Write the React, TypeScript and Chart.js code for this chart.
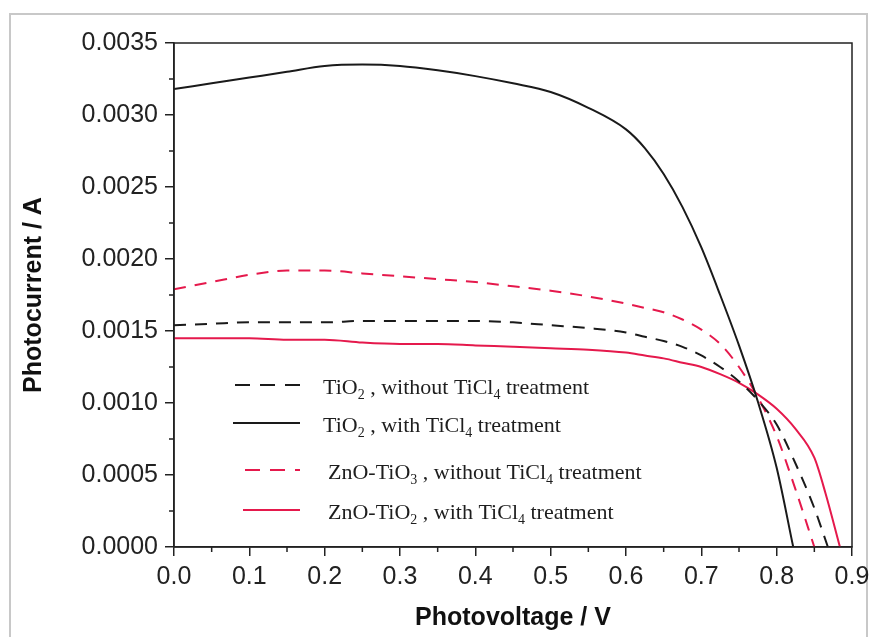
import React, { useEffect, useRef } from "react";
import { Chart, registerables } from "chart.js";

Chart.register(...registerables);

// ---- data (photovoltage V, photocurrent A) ----
const vTiO2NoTreat = [0, 0.05, 0.1, 0.15, 0.2, 0.25, 0.3, 0.35, 0.4, 0.45, 0.5, 0.55, 0.6, 0.625, 0.65, 0.675, 0.7, 0.725, 0.75, 0.775, 0.8, 0.825, 0.85, 0.868];
const iTiO2NoTreat = [0.00154, 0.00155, 0.00156, 0.00156, 0.00156, 0.00157, 0.00157, 0.00157, 0.00157, 0.00156, 0.00154, 0.00152, 0.00149, 0.00146, 0.00143, 0.00139, 0.00133, 0.00125, 0.00115, 0.00102, 0.00085, 0.00058, 0.00027, 0];

const vTiO2Treat = [0, 0.05, 0.1, 0.15, 0.2, 0.25, 0.3, 0.35, 0.4, 0.45, 0.5, 0.55, 0.6, 0.625, 0.65, 0.675, 0.7, 0.725, 0.75, 0.775, 0.8, 0.822];
const iTiO2Treat = [0.00318, 0.00322, 0.00326, 0.0033, 0.00334, 0.00335, 0.00334, 0.00331, 0.00327, 0.00322, 0.00316, 0.00305, 0.0029, 0.00277, 0.00259, 0.00236, 0.00208, 0.00175, 0.0014, 0.00101, 0.00055, 0];

const vZnONoTreat = [0, 0.05, 0.1, 0.15, 0.2, 0.25, 0.3, 0.35, 0.4, 0.45, 0.5, 0.55, 0.6, 0.625, 0.65, 0.675, 0.7, 0.725, 0.75, 0.775, 0.8, 0.825, 0.85];
const iZnONoTreat = [0.00179, 0.00184, 0.00189, 0.00192, 0.00192, 0.0019, 0.00188, 0.00186, 0.00184, 0.00181, 0.00178, 0.00174, 0.00169, 0.00166, 0.00163, 0.00158, 0.00151, 0.00141, 0.00125, 0.00104, 0.00077, 0.0004, 0];

const vZnOTreat = [0, 0.05, 0.1, 0.15, 0.2, 0.25, 0.3, 0.35, 0.4, 0.45, 0.5, 0.55, 0.6, 0.625, 0.65, 0.675, 0.7, 0.725, 0.75, 0.775, 0.8, 0.825, 0.85, 0.865, 0.884];
const iZnOTreat = [0.00145, 0.00145, 0.00145, 0.00144, 0.00144, 0.00142, 0.00141, 0.00141, 0.0014, 0.00139, 0.00138, 0.00137, 0.00135, 0.00133, 0.00131, 0.00128, 0.00125, 0.0012, 0.00114, 0.00106, 0.00096, 0.00082, 0.00062, 0.00037, 0];

// legend labels ("_n" marks a subscript digit)
const legendLabels = [
  "TiO_2 , without TiCl_4 treatment",
  "TiO_2 , with TiCl_4 treatment",
  "ZnO-TiO_3 , without TiCl_4 treatment",
  "ZnO-TiO_2 , with TiCl_4 treatment",
];

// axis ticks
const xTicks = [0, 0.1, 0.2, 0.3, 0.4, 0.5, 0.6, 0.7, 0.8, 0.9];
const xMinorTicks = [0.05, 0.15, 0.25, 0.35, 0.45, 0.55, 0.65, 0.75, 0.85];
const yTicks = [0, 0.0005, 0.001, 0.0015, 0.002, 0.0025, 0.003, 0.0035];
const yMinorTicks = [0.00025, 0.00075, 0.00125, 0.00175, 0.00225, 0.00275, 0.00325];

const xTitle = "Photovoltage / V";
const yTitle = "Photocurrent / A";

const RED = "#e5194c";
const BLACK = "#1a1a1a";
const AXIS = "#222";

const toPts = (xs: number[], ys: number[]) => xs.map((x, i) => ({ x, y: ys[i] }));

const seriesStyles = [
  { color: BLACK, dash: [12, 9] },
  { color: BLACK, dash: [] as number[] },
  { color: RED, dash: [12, 9] },
  { color: RED, dash: [] as number[] },
];

// legend layout (relative to chart area)
const legendRowsDy = [342, 380, 427, 467];
const legendLineX = [[61, 126], [59, 126], [71, 126], [69, 126]];
const legendTextDx = [149, 149, 154, 154];

function drawRich(ctx: CanvasRenderingContext2D, text: string, x: number, y: number) {
  const parts = text.split(/(_\d)/).filter((p) => p.length > 0);
  let cx = x;
  for (const p of parts) {
    if (p.startsWith("_")) {
      ctx.font = '14px "Liberation Serif", "Times New Roman", serif';
      const s = p.slice(1);
      ctx.fillText(s, cx, y + 5);
      cx += ctx.measureText(s).width;
    } else {
      ctx.font = '22px "Liberation Serif", "Times New Roman", serif';
      ctx.fillText(p, cx, y);
      cx += ctx.measureText(p).width;
    }
  }
}

const decorPlugin = {
  id: "decor",
  afterDraw(chart: any) {
    const { ctx, chartArea: a, scales } = chart;
    ctx.save();
    ctx.strokeStyle = AXIS;
    ctx.lineWidth = 1.5;
    ctx.setLineDash([]);
    ctx.strokeRect(a.left, a.top, a.right - a.left, a.bottom - a.top);
    // minor ticks
    ctx.beginPath();
    for (const v of xMinorTicks) {
      const px = scales.x.getPixelForValue(v);
      ctx.moveTo(px, a.bottom);
      ctx.lineTo(px, a.bottom + 5);
    }
    for (const v of yMinorTicks) {
      const py = scales.y.getPixelForValue(v);
      ctx.moveTo(a.left - 5, py);
      ctx.lineTo(a.left, py);
    }
    ctx.stroke();
    // legend
    legendLabels.forEach((label, i) => {
      const y = a.top + legendRowsDy[i];
      const st = seriesStyles[i];
      ctx.strokeStyle = st.color;
      ctx.lineWidth = 2;
      ctx.setLineDash(st.dash.length ? [15, 10] : []);
      ctx.beginPath();
      ctx.moveTo(a.left + legendLineX[i][0], y);
      ctx.lineTo(a.left + legendLineX[i][1], y);
      ctx.stroke();
      ctx.setLineDash([]);
      ctx.fillStyle = "#1e1e1e";
      ctx.textBaseline = "alphabetic";
      ctx.textAlign = "left";
      drawRich(ctx, label, a.left + legendTextDx[i], y + 9);
    });
    ctx.restore();
  },
};

export default function App() {
  const ref = useRef<HTMLCanvasElement>(null);

  useEffect(() => {
    const datasets = [
      toPts(vTiO2NoTreat, iTiO2NoTreat),
      toPts(vTiO2Treat, iTiO2Treat),
      toPts(vZnONoTreat, iZnONoTreat),
      toPts(vZnOTreat, iZnOTreat),
    ].map((data, i) => ({
      label: legendLabels[i].replace(/_2/g, "₂").replace(/_3/g, "₃").replace(/_4/g, "₄"),
      data,
      borderColor: seriesStyles[i].color,
      borderDash: seriesStyles[i].dash,
      borderWidth: 2,
      pointRadius: 0,
      fill: false,
      cubicInterpolationMode: "monotone" as const,
    }));

    const tickFont = { family: '"Liberation Sans", Arial, sans-serif', size: 25 };
    const titleFont = { family: '"Liberation Sans", Arial, sans-serif', size: 25, weight: "bold" as const };

    const chart = new Chart(ref.current!, {
      type: "line",
      data: { datasets },
      options: {
        animation: false,
        responsive: false,
        layout: { padding: { left: 0, top: 43, right: 21, bottom: 0 } },
        plugins: { legend: { display: false }, tooltip: { enabled: false } },
        scales: {
          x: {
            type: "linear",
            min: 0,
            max: 0.9,
            afterBuildTicks: (s: any) => {
              s.ticks = xTicks.map((v) => ({ value: v }));
            },
            afterFit: (s: any) => {
              s.height = 90;
              s.paddingRight = 0;
              s.paddingLeft = 0;
            },
            ticks: {
              font: tickFont,
              color: AXIS,
              padding: 6,
              maxRotation: 0,
              autoSkip: false,
              callback: (v: any) => Number(v).toFixed(1),
            },
            grid: { drawOnChartArea: false, drawTicks: true, tickLength: 9, color: AXIS, lineWidth: 1.5 },
            border: { display: true, color: AXIS, width: 1.5 },
            title: { display: true, text: xTitle, font: titleFont, color: "#111", padding: { top: 0, bottom: 4 } },
          },
          y: {
            type: "linear",
            min: 0,
            max: 0.0035,
            afterBuildTicks: (s: any) => {
              s.ticks = yTicks.map((v) => ({ value: v }));
            },
            afterFit: (s: any) => {
              s.width = 174;
              s.paddingTop = 0;
              s.paddingBottom = 0;
            },
            ticks: {
              font: tickFont,
              color: AXIS,
              padding: 7,
              autoSkip: false,
              callback: (v: any) => Number(v).toFixed(4),
            },
            grid: { drawOnChartArea: false, drawTicks: true, tickLength: 9, color: AXIS, lineWidth: 1.5 },
            border: { display: true, color: AXIS, width: 1.5 },
            title: { display: true, text: yTitle, font: titleFont, color: "#111", padding: { top: 19, bottom: 0 } },
          },
        },
      },
      plugins: [decorPlugin],
    });
    return () => chart.destroy();
  }, []);

  return (
    <div style={{ position: "absolute", left: 0, top: 0, width: 873, height: 637, background: "#fff", overflow: "hidden" }}>
      <div
        style={{
          position: "absolute",
          left: 9,
          top: 13,
          width: 859,
          height: 700,
          border: "2px solid #c8c8c8",
          boxSizing: "border-box",
        }}
      />
      <canvas ref={ref} width={873} height={637} style={{ position: "absolute", left: 0, top: 0, display: "block" }} />
    </div>
  );
}
